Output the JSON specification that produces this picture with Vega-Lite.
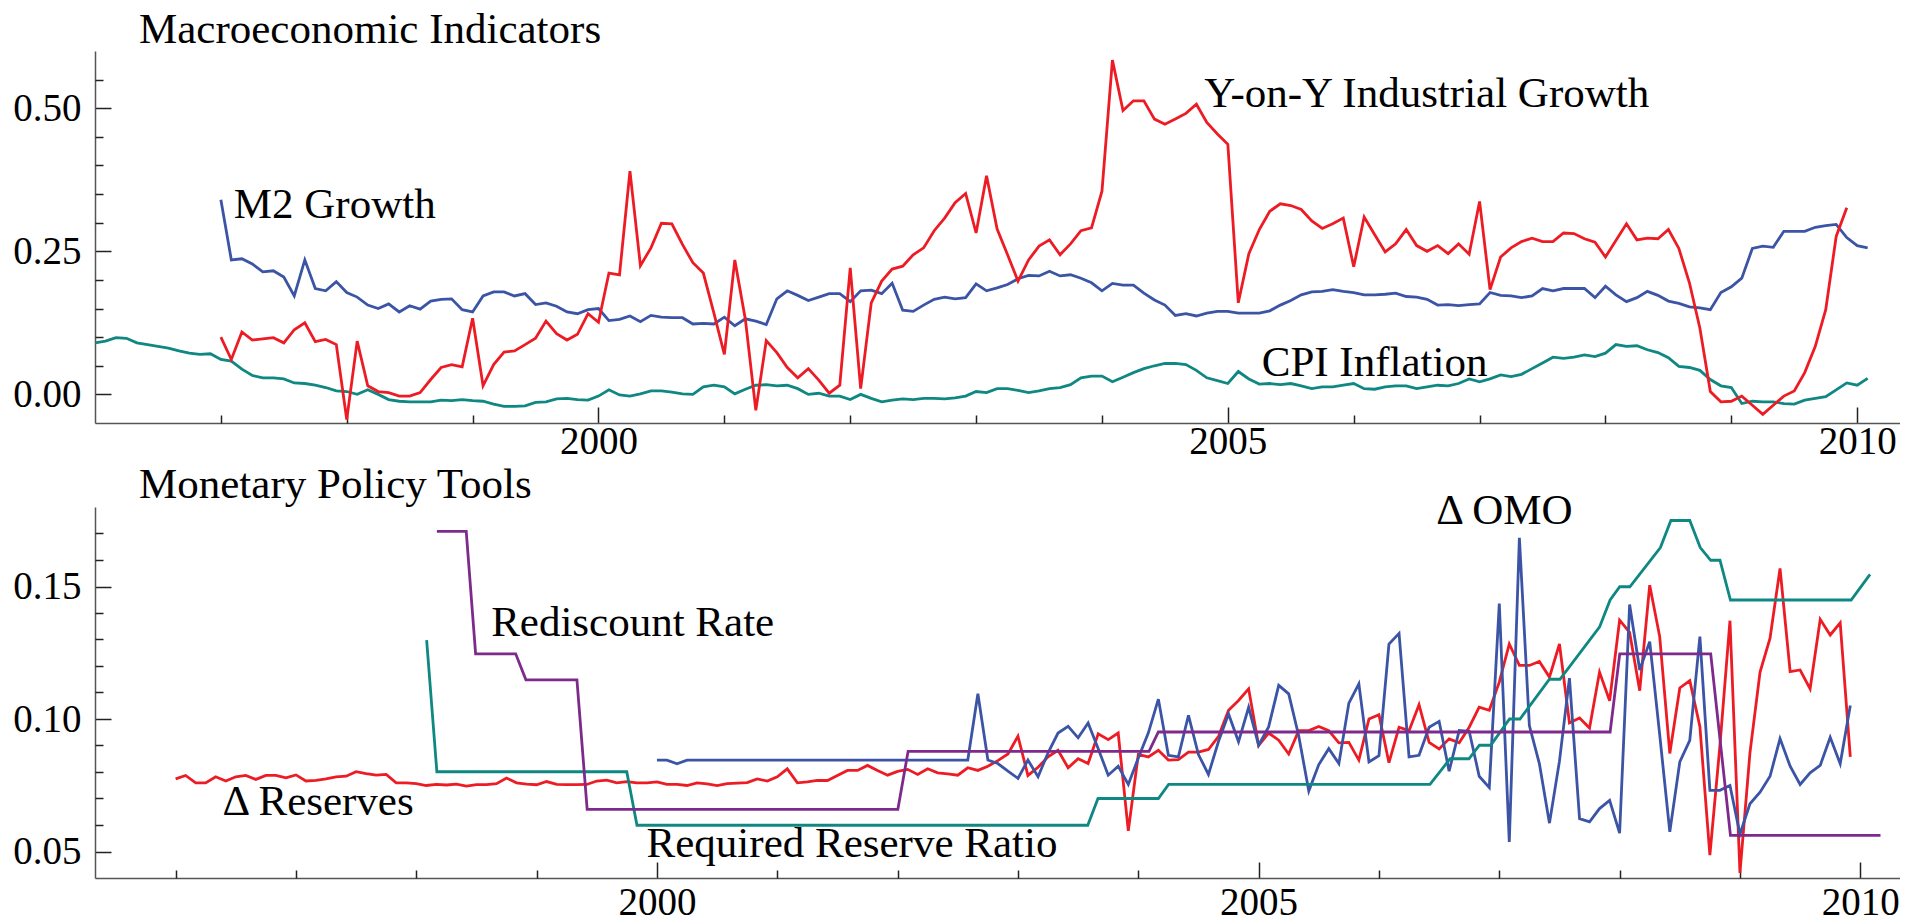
{
"$schema": "https://vega.github.io/schema/vega-lite/v6.json",
"background": "white",
"padding": {"left": 12, "top": 8, "right": 0, "bottom": 0},
"spacing": 2,
"config": {"view": {"stroke": null}, "font": "Liberation Serif"},
"datasets": {
"cpi": [
{"t":1996.000,"v":0.090},{"t":1996.083,"v":0.093},{"t":1996.167,"v":0.099},{"t":1996.250,"v":0.098},{"t":1996.333,"v":0.090},{"t":1996.417,"v":0.087},{"t":1996.500,"v":0.084},{"t":1996.583,"v":0.081},{"t":1996.667,"v":0.076},{"t":1996.750,"v":0.072},{"t":1996.833,"v":0.070},{"t":1996.917,"v":0.071},
{"t":1997.000,"v":0.061},{"t":1997.083,"v":0.058},{"t":1997.167,"v":0.044},{"t":1997.250,"v":0.033},{"t":1997.333,"v":0.029},{"t":1997.417,"v":0.029},{"t":1997.500,"v":0.027},{"t":1997.583,"v":0.020},{"t":1997.667,"v":0.019},{"t":1997.750,"v":0.016},{"t":1997.833,"v":0.012},{"t":1997.917,"v":0.006},
{"t":1998.000,"v":0.005},{"t":1998.083,"v":0.000},{"t":1998.167,"v":0.008},{"t":1998.250,"v":0.000},{"t":1998.333,"v":-0.009},{"t":1998.417,"v":-0.012},{"t":1998.500,"v":-0.013},{"t":1998.583,"v":-0.013},{"t":1998.667,"v":-0.013},{"t":1998.750,"v":-0.010},{"t":1998.833,"v":-0.011},{"t":1998.917,"v":-0.009},
{"t":1999.000,"v":-0.011},{"t":1999.083,"v":-0.012},{"t":1999.167,"v":-0.017},{"t":1999.250,"v":-0.021},{"t":1999.333,"v":-0.021},{"t":1999.417,"v":-0.020},{"t":1999.500,"v":-0.014},{"t":1999.583,"v":-0.013},{"t":1999.667,"v":-0.008},{"t":1999.750,"v":-0.007},{"t":1999.833,"v":-0.009},{"t":1999.917,"v":-0.010},
{"t":2000.000,"v":-0.003},{"t":2000.083,"v":0.008},{"t":2000.167,"v":-0.001},{"t":2000.250,"v":-0.003},{"t":2000.333,"v":0.001},{"t":2000.417,"v":0.006},{"t":2000.500,"v":0.006},{"t":2000.583,"v":0.004},{"t":2000.667,"v":0.001},{"t":2000.750,"v":0.000},{"t":2000.833,"v":0.013},{"t":2000.917,"v":0.016},
{"t":2001.000,"v":0.013},{"t":2001.083,"v":0.001},{"t":2001.167,"v":0.009},{"t":2001.250,"v":0.016},{"t":2001.333,"v":0.017},{"t":2001.417,"v":0.015},{"t":2001.500,"v":0.016},{"t":2001.583,"v":0.010},{"t":2001.667,"v":0.000},{"t":2001.750,"v":0.002},{"t":2001.833,"v":-0.003},{"t":2001.917,"v":-0.003},
{"t":2002.000,"v":-0.009},{"t":2002.083,"v":0.000},{"t":2002.167,"v":-0.007},{"t":2002.250,"v":-0.013},{"t":2002.333,"v":-0.010},{"t":2002.417,"v":-0.008},{"t":2002.500,"v":-0.009},{"t":2002.583,"v":-0.007},{"t":2002.667,"v":-0.007},{"t":2002.750,"v":-0.008},{"t":2002.833,"v":-0.006},{"t":2002.917,"v":-0.003},
{"t":2003.000,"v":0.005},{"t":2003.083,"v":0.003},{"t":2003.167,"v":0.010},{"t":2003.250,"v":0.010},{"t":2003.333,"v":0.007},{"t":2003.417,"v":0.003},{"t":2003.500,"v":0.006},{"t":2003.583,"v":0.010},{"t":2003.667,"v":0.012},{"t":2003.750,"v":0.017},{"t":2003.833,"v":0.029},{"t":2003.917,"v":0.032},
{"t":2004.000,"v":0.032},{"t":2004.083,"v":0.022},{"t":2004.167,"v":0.030},{"t":2004.250,"v":0.038},{"t":2004.333,"v":0.045},{"t":2004.417,"v":0.050},{"t":2004.500,"v":0.054},{"t":2004.583,"v":0.054},{"t":2004.667,"v":0.052},{"t":2004.750,"v":0.042},{"t":2004.833,"v":0.029},{"t":2004.917,"v":0.024},
{"t":2005.000,"v":0.019},{"t":2005.083,"v":0.040},{"t":2005.167,"v":0.027},{"t":2005.250,"v":0.018},{"t":2005.333,"v":0.019},{"t":2005.417,"v":0.017},{"t":2005.500,"v":0.019},{"t":2005.583,"v":0.015},{"t":2005.667,"v":0.010},{"t":2005.750,"v":0.013},{"t":2005.833,"v":0.013},{"t":2005.917,"v":0.016},
{"t":2006.000,"v":0.019},{"t":2006.083,"v":0.010},{"t":2006.167,"v":0.009},{"t":2006.250,"v":0.013},{"t":2006.333,"v":0.015},{"t":2006.417,"v":0.015},{"t":2006.500,"v":0.010},{"t":2006.583,"v":0.013},{"t":2006.667,"v":0.016},{"t":2006.750,"v":0.015},{"t":2006.833,"v":0.019},{"t":2006.917,"v":0.027},
{"t":2007.000,"v":0.022},{"t":2007.083,"v":0.027},{"t":2007.167,"v":0.034},{"t":2007.250,"v":0.031},{"t":2007.333,"v":0.035},{"t":2007.417,"v":0.045},{"t":2007.500,"v":0.055},{"t":2007.583,"v":0.065},{"t":2007.667,"v":0.063},{"t":2007.750,"v":0.065},{"t":2007.833,"v":0.069},{"t":2007.917,"v":0.066},
{"t":2008.000,"v":0.072},{"t":2008.083,"v":0.087},{"t":2008.167,"v":0.084},{"t":2008.250,"v":0.085},{"t":2008.333,"v":0.078},{"t":2008.417,"v":0.073},{"t":2008.500,"v":0.064},{"t":2008.583,"v":0.049},{"t":2008.667,"v":0.047},{"t":2008.750,"v":0.042},{"t":2008.833,"v":0.026},{"t":2008.917,"v":0.015},
{"t":2009.000,"v":0.012},{"t":2009.083,"v":-0.016},{"t":2009.167,"v":-0.012},{"t":2009.250,"v":-0.013},{"t":2009.333,"v":-0.013},{"t":2009.417,"v":-0.016},{"t":2009.500,"v":-0.017},{"t":2009.583,"v":-0.010},{"t":2009.667,"v":-0.007},{"t":2009.750,"v":-0.004},{"t":2009.833,"v":0.008},{"t":2009.917,"v":0.020},
{"t":2010.000,"v":0.016},{"t":2010.083,"v":0.028}
],
"m2": [
{"t":1997.000,"v":0.340},{"t":1997.083,"v":0.235},{"t":1997.167,"v":0.237},{"t":1997.250,"v":0.228},{"t":1997.333,"v":0.214},{"t":1997.417,"v":0.216},{"t":1997.500,"v":0.205},{"t":1997.583,"v":0.172},{"t":1997.667,"v":0.235},{"t":1997.750,"v":0.185},{"t":1997.833,"v":0.181},{"t":1997.917,"v":0.197},
{"t":1998.000,"v":0.178},{"t":1998.083,"v":0.170},{"t":1998.167,"v":0.156},{"t":1998.250,"v":0.150},{"t":1998.333,"v":0.158},{"t":1998.417,"v":0.144},{"t":1998.500,"v":0.155},{"t":1998.583,"v":0.149},{"t":1998.667,"v":0.163},{"t":1998.750,"v":0.166},{"t":1998.833,"v":0.167},{"t":1998.917,"v":0.148},
{"t":1999.000,"v":0.144},{"t":1999.083,"v":0.172},{"t":1999.167,"v":0.179},{"t":1999.250,"v":0.179},{"t":1999.333,"v":0.172},{"t":1999.417,"v":0.176},{"t":1999.500,"v":0.157},{"t":1999.583,"v":0.160},{"t":1999.667,"v":0.154},{"t":1999.750,"v":0.144},{"t":1999.833,"v":0.141},{"t":1999.917,"v":0.148},
{"t":2000.000,"v":0.150},{"t":2000.083,"v":0.129},{"t":2000.167,"v":0.131},{"t":2000.250,"v":0.137},{"t":2000.333,"v":0.127},{"t":2000.417,"v":0.138},{"t":2000.500,"v":0.135},{"t":2000.583,"v":0.134},{"t":2000.667,"v":0.134},{"t":2000.750,"v":0.123},{"t":2000.833,"v":0.124},{"t":2000.917,"v":0.123},
{"t":2001.000,"v":0.135},{"t":2001.083,"v":0.120},{"t":2001.167,"v":0.132},{"t":2001.250,"v":0.128},{"t":2001.333,"v":0.122},{"t":2001.417,"v":0.167},{"t":2001.500,"v":0.181},{"t":2001.583,"v":0.173},{"t":2001.667,"v":0.164},{"t":2001.750,"v":0.170},{"t":2001.833,"v":0.176},{"t":2001.917,"v":0.176},
{"t":2002.000,"v":0.162},{"t":2002.083,"v":0.181},{"t":2002.167,"v":0.182},{"t":2002.250,"v":0.176},{"t":2002.333,"v":0.194},{"t":2002.417,"v":0.147},{"t":2002.500,"v":0.145},{"t":2002.583,"v":0.156},{"t":2002.667,"v":0.166},{"t":2002.750,"v":0.170},{"t":2002.833,"v":0.167},{"t":2002.917,"v":0.169},
{"t":2003.000,"v":0.193},{"t":2003.083,"v":0.181},{"t":2003.167,"v":0.186},{"t":2003.250,"v":0.192},{"t":2003.333,"v":0.202},{"t":2003.417,"v":0.208},{"t":2003.500,"v":0.207},{"t":2003.583,"v":0.215},{"t":2003.667,"v":0.207},{"t":2003.750,"v":0.209},{"t":2003.833,"v":0.203},{"t":2003.917,"v":0.195},
{"t":2004.000,"v":0.181},{"t":2004.083,"v":0.194},{"t":2004.167,"v":0.191},{"t":2004.250,"v":0.191},{"t":2004.333,"v":0.177},{"t":2004.417,"v":0.165},{"t":2004.500,"v":0.156},{"t":2004.583,"v":0.138},{"t":2004.667,"v":0.141},{"t":2004.750,"v":0.137},{"t":2004.833,"v":0.142},{"t":2004.917,"v":0.145},
{"t":2005.000,"v":0.145},{"t":2005.083,"v":0.142},{"t":2005.167,"v":0.142},{"t":2005.250,"v":0.142},{"t":2005.333,"v":0.146},{"t":2005.417,"v":0.156},{"t":2005.500,"v":0.164},{"t":2005.583,"v":0.174},{"t":2005.667,"v":0.179},{"t":2005.750,"v":0.180},{"t":2005.833,"v":0.183},{"t":2005.917,"v":0.180},
{"t":2006.000,"v":0.178},{"t":2006.083,"v":0.174},{"t":2006.167,"v":0.174},{"t":2006.250,"v":0.175},{"t":2006.333,"v":0.177},{"t":2006.417,"v":0.171},{"t":2006.500,"v":0.170},{"t":2006.583,"v":0.166},{"t":2006.667,"v":0.156},{"t":2006.750,"v":0.157},{"t":2006.833,"v":0.155},{"t":2006.917,"v":0.157},
{"t":2007.000,"v":0.158},{"t":2007.083,"v":0.178},{"t":2007.167,"v":0.173},{"t":2007.250,"v":0.172},{"t":2007.333,"v":0.169},{"t":2007.417,"v":0.172},{"t":2007.500,"v":0.185},{"t":2007.583,"v":0.181},{"t":2007.667,"v":0.185},{"t":2007.750,"v":0.185},{"t":2007.833,"v":0.185},{"t":2007.917,"v":0.169},
{"t":2008.000,"v":0.189},{"t":2008.083,"v":0.174},{"t":2008.167,"v":0.162},{"t":2008.250,"v":0.169},{"t":2008.333,"v":0.180},{"t":2008.417,"v":0.173},{"t":2008.500,"v":0.163},{"t":2008.583,"v":0.159},{"t":2008.667,"v":0.153},{"t":2008.750,"v":0.151},{"t":2008.833,"v":0.148},{"t":2008.917,"v":0.178},
{"t":2009.000,"v":0.188},{"t":2009.083,"v":0.203},{"t":2009.167,"v":0.255},{"t":2009.250,"v":0.259},{"t":2009.333,"v":0.257},{"t":2009.417,"v":0.285},{"t":2009.500,"v":0.285},{"t":2009.583,"v":0.285},{"t":2009.667,"v":0.292},{"t":2009.750,"v":0.295},{"t":2009.833,"v":0.297},{"t":2009.917,"v":0.274},
{"t":2010.000,"v":0.260},{"t":2010.083,"v":0.256}
],
"ip": [
{"t":1997.000,"v":0.100},{"t":1997.083,"v":0.061},{"t":1997.167,"v":0.109},{"t":1997.250,"v":0.095},{"t":1997.333,"v":0.097},{"t":1997.417,"v":0.099},{"t":1997.500,"v":0.090},{"t":1997.583,"v":0.113},{"t":1997.667,"v":0.125},{"t":1997.750,"v":0.092},{"t":1997.833,"v":0.096},{"t":1997.917,"v":0.087},
{"t":1998.000,"v":-0.044},{"t":1998.083,"v":0.093},{"t":1998.167,"v":0.015},{"t":1998.250,"v":0.005},{"t":1998.333,"v":0.003},{"t":1998.417,"v":-0.003},{"t":1998.500,"v":-0.003},{"t":1998.583,"v":0.003},{"t":1998.667,"v":0.026},{"t":1998.750,"v":0.047},{"t":1998.833,"v":0.052},{"t":1998.917,"v":0.048},
{"t":1999.000,"v":0.133},{"t":1999.083,"v":0.015},{"t":1999.167,"v":0.052},{"t":1999.250,"v":0.074},{"t":1999.333,"v":0.076},{"t":1999.417,"v":0.087},{"t":1999.500,"v":0.098},{"t":1999.583,"v":0.128},{"t":1999.667,"v":0.106},{"t":1999.750,"v":0.095},{"t":1999.833,"v":0.105},{"t":1999.917,"v":0.141},
{"t":2000.000,"v":0.126},{"t":2000.083,"v":0.212},{"t":2000.167,"v":0.209},{"t":2000.250,"v":0.390},{"t":2000.333,"v":0.225},{"t":2000.417,"v":0.256},{"t":2000.500,"v":0.299},{"t":2000.583,"v":0.298},{"t":2000.667,"v":0.262},{"t":2000.750,"v":0.230},{"t":2000.833,"v":0.212},{"t":2000.917,"v":0.142},
{"t":2001.000,"v":0.070},{"t":2001.083,"v":0.235},{"t":2001.167,"v":0.131},{"t":2001.250,"v":-0.028},{"t":2001.333,"v":0.094},{"t":2001.417,"v":0.073},{"t":2001.500,"v":0.047},{"t":2001.583,"v":0.029},{"t":2001.667,"v":0.045},{"t":2001.750,"v":0.025},{"t":2001.833,"v":0.002},{"t":2001.917,"v":0.016},
{"t":2002.000,"v":0.221},{"t":2002.083,"v":0.010},{"t":2002.167,"v":0.160},{"t":2002.250,"v":0.198},{"t":2002.333,"v":0.219},{"t":2002.417,"v":0.224},{"t":2002.500,"v":0.244},{"t":2002.583,"v":0.256},{"t":2002.667,"v":0.286},{"t":2002.750,"v":0.308},{"t":2002.833,"v":0.335},{"t":2002.917,"v":0.351},
{"t":2003.000,"v":0.282},{"t":2003.083,"v":0.382},{"t":2003.167,"v":0.289},{"t":2003.250,"v":0.244},{"t":2003.333,"v":0.198},{"t":2003.417,"v":0.235},{"t":2003.500,"v":0.259},{"t":2003.583,"v":0.270},{"t":2003.667,"v":0.244},{"t":2003.750,"v":0.263},{"t":2003.833,"v":0.286},{"t":2003.917,"v":0.291},
{"t":2004.000,"v":0.355},{"t":2004.083,"v":0.584},{"t":2004.167,"v":0.496},{"t":2004.250,"v":0.513},{"t":2004.333,"v":0.513},{"t":2004.417,"v":0.481},{"t":2004.500,"v":0.472},{"t":2004.583,"v":0.481},{"t":2004.667,"v":0.491},{"t":2004.750,"v":0.507},{"t":2004.833,"v":0.475},{"t":2004.917,"v":0.455},
{"t":2005.000,"v":0.437},{"t":2005.083,"v":0.160},{"t":2005.167,"v":0.246},{"t":2005.250,"v":0.288},{"t":2005.333,"v":0.320},{"t":2005.417,"v":0.333},{"t":2005.500,"v":0.330},{"t":2005.583,"v":0.323},{"t":2005.667,"v":0.303},{"t":2005.750,"v":0.290},{"t":2005.833,"v":0.298},{"t":2005.917,"v":0.308},
{"t":2006.000,"v":0.223},{"t":2006.083,"v":0.310},{"t":2006.167,"v":0.279},{"t":2006.250,"v":0.249},{"t":2006.333,"v":0.263},{"t":2006.417,"v":0.288},{"t":2006.500,"v":0.260},{"t":2006.583,"v":0.250},{"t":2006.667,"v":0.260},{"t":2006.750,"v":0.246},{"t":2006.833,"v":0.263},{"t":2006.917,"v":0.245},
{"t":2007.000,"v":0.337},{"t":2007.083,"v":0.183},{"t":2007.167,"v":0.240},{"t":2007.250,"v":0.256},{"t":2007.333,"v":0.267},{"t":2007.417,"v":0.273},{"t":2007.500,"v":0.267},{"t":2007.583,"v":0.267},{"t":2007.667,"v":0.282},{"t":2007.750,"v":0.281},{"t":2007.833,"v":0.272},{"t":2007.917,"v":0.266},
{"t":2008.000,"v":0.240},{"t":2008.083,"v":0.269},{"t":2008.167,"v":0.298},{"t":2008.250,"v":0.270},{"t":2008.333,"v":0.273},{"t":2008.417,"v":0.272},{"t":2008.500,"v":0.288},{"t":2008.583,"v":0.255},{"t":2008.667,"v":0.195},{"t":2008.750,"v":0.116},{"t":2008.833,"v":0.005},{"t":2008.917,"v":-0.013},
{"t":2009.000,"v":-0.012},{"t":2009.083,"v":-0.003},{"t":2009.167,"v":-0.019},{"t":2009.250,"v":-0.035},{"t":2009.333,"v":-0.019},{"t":2009.417,"v":-0.003},{"t":2009.500,"v":0.006},{"t":2009.583,"v":0.038},{"t":2009.667,"v":0.084},{"t":2009.750,"v":0.148},{"t":2009.833,"v":0.276},{"t":2009.917,"v":0.326}
],
"res": [
{"t":1996.000,"v":0.0774},{"t":1996.083,"v":0.0787},{"t":1996.167,"v":0.0759},{"t":1996.250,"v":0.0759},{"t":1996.333,"v":0.0782},{"t":1996.417,"v":0.0766},{"t":1996.500,"v":0.0782},{"t":1996.583,"v":0.0787},{"t":1996.667,"v":0.0772},{"t":1996.750,"v":0.0787},{"t":1996.833,"v":0.0787},{"t":1996.917,"v":0.0778},
{"t":1997.000,"v":0.0789},{"t":1997.083,"v":0.0766},{"t":1997.167,"v":0.0768},{"t":1997.250,"v":0.0774},{"t":1997.333,"v":0.0782},{"t":1997.417,"v":0.0784},{"t":1997.500,"v":0.0801},{"t":1997.583,"v":0.0794},{"t":1997.667,"v":0.0788},{"t":1997.750,"v":0.0791},{"t":1997.833,"v":0.0759},{"t":1997.917,"v":0.0759},
{"t":1998.000,"v":0.0756},{"t":1998.083,"v":0.0749},{"t":1998.167,"v":0.0753},{"t":1998.250,"v":0.0751},{"t":1998.333,"v":0.0754},{"t":1998.417,"v":0.0747},{"t":1998.500,"v":0.0752},{"t":1998.583,"v":0.0752},{"t":1998.667,"v":0.0756},{"t":1998.750,"v":0.0777},{"t":1998.833,"v":0.0759},{"t":1998.917,"v":0.0754},
{"t":1999.000,"v":0.0752},{"t":1999.083,"v":0.0764},{"t":1999.167,"v":0.0753},{"t":1999.250,"v":0.0752},{"t":1999.333,"v":0.0752},{"t":1999.417,"v":0.0753},{"t":1999.500,"v":0.0766},{"t":1999.583,"v":0.0769},{"t":1999.667,"v":0.0759},{"t":1999.750,"v":0.0764},{"t":1999.833,"v":0.0759},{"t":1999.917,"v":0.0759},
{"t":2000.000,"v":0.0763},{"t":2000.083,"v":0.0753},{"t":2000.167,"v":0.0753},{"t":2000.250,"v":0.0749},{"t":2000.333,"v":0.0759},{"t":2000.417,"v":0.0755},{"t":2000.500,"v":0.0749},{"t":2000.583,"v":0.0756},{"t":2000.667,"v":0.0758},{"t":2000.750,"v":0.0760},{"t":2000.833,"v":0.0774},{"t":2000.917,"v":0.0766},
{"t":2001.000,"v":0.0782},{"t":2001.083,"v":0.0812},{"t":2001.167,"v":0.0759},{"t":2001.250,"v":0.0763},{"t":2001.333,"v":0.0768},{"t":2001.417,"v":0.0768},{"t":2001.500,"v":0.0787},{"t":2001.583,"v":0.0806},{"t":2001.667,"v":0.0806},{"t":2001.750,"v":0.0825},{"t":2001.833,"v":0.0806},{"t":2001.917,"v":0.0788},
{"t":2002.000,"v":0.0802},{"t":2002.083,"v":0.0810},{"t":2002.167,"v":0.0791},{"t":2002.250,"v":0.0812},{"t":2002.333,"v":0.0797},{"t":2002.417,"v":0.0793},{"t":2002.500,"v":0.0788},{"t":2002.583,"v":0.0816},{"t":2002.667,"v":0.0806},{"t":2002.750,"v":0.0822},{"t":2002.833,"v":0.0843},{"t":2002.917,"v":0.0868},
{"t":2003.000,"v":0.0935},{"t":2003.083,"v":0.0787},{"t":2003.167,"v":0.0818},{"t":2003.250,"v":0.0857},{"t":2003.333,"v":0.0882},{"t":2003.417,"v":0.0816},{"t":2003.500,"v":0.0850},{"t":2003.583,"v":0.0832},{"t":2003.667,"v":0.0944},{"t":2003.750,"v":0.0922},{"t":2003.833,"v":0.0947},{"t":2003.917,"v":0.0578},
{"t":2004.000,"v":0.0866},{"t":2004.083,"v":0.0857},{"t":2004.167,"v":0.0882},{"t":2004.250,"v":0.0845},{"t":2004.333,"v":0.0847},{"t":2004.417,"v":0.0875},{"t":2004.500,"v":0.0875},{"t":2004.583,"v":0.0885},{"t":2004.667,"v":0.0935},{"t":2004.750,"v":0.1033},{"t":2004.833,"v":0.1070},{"t":2004.917,"v":0.1114},
{"t":2005.000,"v":0.0900},{"t":2005.083,"v":0.0947},{"t":2005.167,"v":0.0920},{"t":2005.250,"v":0.0868},{"t":2005.333,"v":0.0956},{"t":2005.417,"v":0.0956},{"t":2005.500,"v":0.0972},{"t":2005.583,"v":0.0956},{"t":2005.667,"v":0.0910},{"t":2005.750,"v":0.0912},{"t":2005.833,"v":0.0845},{"t":2005.917,"v":0.1000},
{"t":2006.000,"v":0.1016},{"t":2006.083,"v":0.0835},{"t":2006.167,"v":0.0969},{"t":2006.250,"v":0.0956},{"t":2006.333,"v":0.1054},{"t":2006.417,"v":0.0912},{"t":2006.500,"v":0.0887},{"t":2006.583,"v":0.0925},{"t":2006.667,"v":0.0910},{"t":2006.750,"v":0.0969},{"t":2006.833,"v":0.1045},{"t":2006.917,"v":0.1033},
{"t":2007.000,"v":0.1139},{"t":2007.083,"v":0.1283},{"t":2007.167,"v":0.1202},{"t":2007.250,"v":0.1202},{"t":2007.333,"v":0.1217},{"t":2007.417,"v":0.1158},{"t":2007.500,"v":0.1283},{"t":2007.583,"v":0.0985},{"t":2007.667,"v":0.1004},{"t":2007.750,"v":0.0966},{"t":2007.833,"v":0.1177},{"t":2007.917,"v":0.1069},
{"t":2008.000,"v":0.1373},{"t":2008.083,"v":0.1327},{"t":2008.167,"v":0.1107},{"t":2008.250,"v":0.1505},{"t":2008.333,"v":0.1311},{"t":2008.417,"v":0.0870},{"t":2008.500,"v":0.1117},{"t":2008.583,"v":0.1145},{"t":2008.667,"v":0.0972},{"t":2008.750,"v":0.0486},{"t":2008.833,"v":0.0897},{"t":2008.917,"v":0.1371},
{"t":2009.000,"v":0.0419},{"t":2009.083,"v":0.0872},{"t":2009.167,"v":0.1177},{"t":2009.250,"v":0.1305},{"t":2009.333,"v":0.1568},{"t":2009.417,"v":0.1179},{"t":2009.500,"v":0.1185},{"t":2009.583,"v":0.1114},{"t":2009.667,"v":0.1376},{"t":2009.750,"v":0.1317},{"t":2009.833,"v":0.1363},{"t":2009.917,"v":0.0857}
],
"omo": [
{"t":2000.000,"v":0.0845},{"t":2000.083,"v":0.0845},{"t":2000.167,"v":0.0831},{"t":2000.250,"v":0.0845},{"t":2002.583,"v":0.0845},{"t":2002.667,"v":0.1095},{"t":2002.750,"v":0.0845},{"t":2002.833,"v":0.0832},{"t":2002.917,"v":0.0803},
{"t":2003.000,"v":0.0776},{"t":2003.083,"v":0.0845},{"t":2003.167,"v":0.0782},{"t":2003.250,"v":0.0872},{"t":2003.333,"v":0.0947},{"t":2003.417,"v":0.0972},{"t":2003.500,"v":0.0929},{"t":2003.583,"v":0.0985},{"t":2003.667,"v":0.0888},{"t":2003.750,"v":0.0788},{"t":2003.833,"v":0.0822},{"t":2003.917,"v":0.0753},
{"t":2004.000,"v":0.0853},{"t":2004.083,"v":0.0947},{"t":2004.167,"v":0.1075},{"t":2004.250,"v":0.0863},{"t":2004.333,"v":0.0857},{"t":2004.417,"v":0.1014},{"t":2004.500,"v":0.0866},{"t":2004.583,"v":0.0791},{"t":2004.667,"v":0.0916},{"t":2004.750,"v":0.1019},{"t":2004.833,"v":0.0914},{"t":2004.917,"v":0.1044},
{"t":2005.000,"v":0.0901},{"t":2005.083,"v":0.0970},{"t":2005.167,"v":0.1127},{"t":2005.250,"v":0.1095},{"t":2005.333,"v":0.0937},{"t":2005.417,"v":0.0728},{"t":2005.500,"v":0.0828},{"t":2005.583,"v":0.0888},{"t":2005.667,"v":0.0832},{"t":2005.750,"v":0.1060},{"t":2005.833,"v":0.1133},{"t":2005.917,"v":0.0838},
{"t":2006.000,"v":0.0862},{"t":2006.083,"v":0.1283},{"t":2006.167,"v":0.1323},{"t":2006.250,"v":0.0857},{"t":2006.333,"v":0.0863},{"t":2006.417,"v":0.0969},{"t":2006.500,"v":0.0991},{"t":2006.583,"v":0.0803},{"t":2006.667,"v":0.0957},{"t":2006.750,"v":0.0954},{"t":2006.833,"v":0.0784},{"t":2006.917,"v":0.0741},
{"t":2007.000,"v":0.1436},{"t":2007.083,"v":0.0536},{"t":2007.167,"v":0.1684},{"t":2007.250,"v":0.0975},{"t":2007.333,"v":0.0832},{"t":2007.417,"v":0.0607},{"t":2007.500,"v":0.0841},{"t":2007.583,"v":0.1154},{"t":2007.667,"v":0.0624},{"t":2007.750,"v":0.0612},{"t":2007.833,"v":0.0662},{"t":2007.917,"v":0.0693},
{"t":2008.000,"v":0.0569},{"t":2008.083,"v":0.1432},{"t":2008.167,"v":0.1185},{"t":2008.250,"v":0.1292},{"t":2008.333,"v":0.0941},{"t":2008.417,"v":0.0574},{"t":2008.500,"v":0.0838},{"t":2008.583,"v":0.0919},{"t":2008.667,"v":0.1311},{"t":2008.750,"v":0.0731},{"t":2008.833,"v":0.0731},{"t":2008.917,"v":0.0749},
{"t":2009.000,"v":0.0565},{"t":2009.083,"v":0.0680},{"t":2009.167,"v":0.0724},{"t":2009.250,"v":0.0784},{"t":2009.333,"v":0.0926},{"t":2009.417,"v":0.0822},{"t":2009.500,"v":0.0753},{"t":2009.583,"v":0.0797},{"t":2009.667,"v":0.0825},{"t":2009.750,"v":0.0931},{"t":2009.833,"v":0.0831},{"t":2009.917,"v":0.1051}
],
"redisc": [
{"t":1998.171,"v":0.1708},{"t":1998.415,"v":0.1708},{"t":1998.493,"v":0.1246},{"t":1998.826,"v":0.1246},{"t":1998.911,"v":0.1148},{"t":1999.335,"v":0.1148},{"t":1999.420,"v":0.0659},{"t":2002.002,"v":0.0659},{"t":2002.087,"v":0.0878},{"t":2004.089,"v":0.0878},{"t":2004.167,"v":0.0951},{"t":2007.921,"v":0.0951},{"t":2008.001,"v":0.1246},{"t":2008.757,"v":0.1246},{"t":2008.921,"v":0.0561},{"t":2010.168,"v":0.0561}
],
"rrr": [
{"t":1998.086,"v":0.1298},{"t":1998.171,"v":0.0801},{"t":1999.749,"v":0.0801},{"t":1999.834,"v":0.0599},{"t":2003.580,"v":0.0599},{"t":2003.665,"v":0.0700},{"t":2004.167,"v":0.0700},{"t":2004.252,"v":0.0753},{"t":2006.424,"v":0.0753},{"t":2006.591,"v":0.0850},{"t":2006.748,"v":0.0850},{"t":2006.835,"v":0.0901},{"t":2006.929,"v":0.0901},{"t":2007.085,"v":0.1000},{"t":2007.172,"v":0.1000},{"t":2007.417,"v":0.1150},{"t":2007.504,"v":0.1150},{"t":2007.834,"v":0.1348},{"t":2007.921,"v":0.1449},{"t":2008.001,"v":0.1499},{"t":2008.085,"v":0.1499},{"t":2008.339,"v":0.1647},{"t":2008.426,"v":0.1749},{"t":2008.583,"v":0.1749},{"t":2008.670,"v":0.1647},{"t":2008.757,"v":0.1599},{"t":2008.834,"v":0.1599},{"t":2008.921,"v":0.1449},{"t":2009.924,"v":0.1449},{"t":2010.081,"v":0.1546}
],
"labTop": [
{"t":1996.350,"v":0.6145,"txt":"Macroeconomic Indicators"},
{"t":1997.103,"v":0.309,"txt":"M2 Growth"},
{"t":2004.812,"v":0.503,"txt":"Y-on-Y Industrial Growth"},
{"t":2005.269,"v":0.032,"txt":"CPI Inflation"}
],
"labBot": [
{"t":1995.696,"v":0.1834,"txt":"Monetary Policy Tools"},
{"t":1998.622,"v":0.1314,"txt":"Rediscount Rate"},
{"t":1996.389,"v":0.0638,"txt":"Δ Reserves"},
{"t":1999.914,"v":0.0481,"txt":"Required Reserve Ratio"},
{"t":2006.476,"v":0.1734,"txt":"Δ OMO"}
]
},
"vconcat": [
{
"width": 1805, "height": 372,
"resolve": {"axis": {"x": "independent", "y": "independent"}},
"layer": [
{"mark": {"type": "rule", "color": "#9a9a9a", "strokeWidth": 1.5},
 "encoding": {"y": {"datum": 0, "type": "quantitative", "scale": {"domain": [-0.05, 0.6], "nice": false, "zero": false}, "axis": null}}},
{"data": {"name": "cpi"}, "mark": {"type": "line", "color": "#0f8782", "strokeWidth": 2.8},
 "encoding": {
  "x": {"field": "t", "type": "quantitative", "scale": {"domain": [1996, 2010.34], "nice": false, "zero": false},
        "axis": {"orient": "bottom", "values": [2000, 2005, 2010], "format": "d", "title": null, "grid": false, "tickSize": -16, "tickWidth": 1.5, "tickColor": "#222", "domainColor": "#555", "domainWidth": 1.5, "labelFont": "Liberation Serif", "labelFontSize": 39, "labelColor": "black", "labelPadding": 15, "labelFlush": false, "labelOverlap": false}},
  "y": {"field": "v", "type": "quantitative", "scale": {"domain": [-0.05, 0.6], "nice": false, "zero": false},
        "axis": {"orient": "left", "values": [0, 0.25, 0.5], "format": ".2f", "title": null, "grid": false, "tickSize": -16, "tickWidth": 1.5, "tickColor": "#222", "domainColor": "#555", "domainWidth": 1.5, "labelFont": "Liberation Serif", "labelFontSize": 39, "labelColor": "black", "labelPadding": 30, "labelFlush": false, "labelOverlap": false}}
 }},
{"data": {"name": "m2"}, "mark": {"type": "line", "color": "#3b54a5", "strokeWidth": 2.8},
 "encoding": {
  "x": {"field": "t", "type": "quantitative", "scale": {"domain": [1996, 2010.34], "nice": false, "zero": false},
        "axis": {"orient": "bottom", "values": [1997, 1998, 1999, 2001, 2002, 2003, 2004, 2006, 2007, 2008, 2009], "title": null, "grid": false, "labels": false, "domain": false, "tickSize": -8, "tickWidth": 1.5, "tickColor": "#222"}},
  "y": {"field": "v", "type": "quantitative", "scale": {"domain": [-0.05, 0.6], "nice": false, "zero": false},
        "axis": {"orient": "left", "values": [0.05, 0.1, 0.15, 0.2, 0.3, 0.35, 0.4, 0.45, 0.55], "title": null, "grid": false, "labels": false, "domain": false, "tickSize": -8, "tickWidth": 1.5, "tickColor": "#222"}}
 }},
{"data": {"name": "ip"}, "mark": {"type": "line", "color": "#ed1c24", "strokeWidth": 2.8},
 "encoding": {
  "x": {"field": "t", "type": "quantitative", "scale": {"domain": [1996, 2010.34], "nice": false, "zero": false}, "axis": null},
  "y": {"field": "v", "type": "quantitative", "scale": {"domain": [-0.05, 0.6], "nice": false, "zero": false}, "axis": null}
 }},
{"data": {"name": "labTop"}, "mark": {"type": "text", "font": "Liberation Serif", "fontSize": 43, "align": "left", "baseline": "alphabetic", "color": "black"},
 "encoding": {
  "x": {"field": "t", "type": "quantitative", "scale": {"domain": [1996, 2010.34], "nice": false, "zero": false}, "axis": null},
  "y": {"field": "v", "type": "quantitative", "scale": {"domain": [-0.05, 0.6], "nice": false, "zero": false}, "axis": null},
  "text": {"field": "txt"}
 }}
]
},
{
"width": 1805, "height": 371,
"resolve": {"axis": {"x": "independent", "y": "independent"}},
"layer": [
{"data": {"name": "res"}, "mark": {"type": "line", "color": "#ed1c24", "strokeWidth": 2.8},
 "encoding": {
  "x": {"field": "t", "type": "quantitative", "scale": {"domain": [1995.33, 2010.33], "nice": false, "zero": false},
        "axis": {"orient": "bottom", "values": [2000, 2005, 2010], "format": "d", "title": null, "grid": false, "tickSize": -16, "tickWidth": 1.5, "tickColor": "#222", "domainColor": "#555", "domainWidth": 1.5, "labelFont": "Liberation Serif", "labelFontSize": 39, "labelColor": "black", "labelPadding": 21, "labelFlush": false, "labelOverlap": false}},
  "y": {"field": "v", "type": "quantitative", "scale": {"domain": [0.04, 0.18], "nice": false, "zero": false},
        "axis": {"orient": "left", "values": [0.05, 0.1, 0.15], "format": ".2f", "title": null, "grid": false, "tickSize": -16, "tickWidth": 1.5, "tickColor": "#222", "domainColor": "#555", "domainWidth": 1.5, "labelFont": "Liberation Serif", "labelFontSize": 39, "labelColor": "black", "labelPadding": 30, "labelFlush": false, "labelOverlap": false}}
 }},
{"data": {"name": "omo"}, "mark": {"type": "line", "color": "#3b54a5", "strokeWidth": 2.8},
 "encoding": {
  "x": {"field": "t", "type": "quantitative", "scale": {"domain": [1995.33, 2010.33], "nice": false, "zero": false},
        "axis": {"orient": "bottom", "values": [1996, 1997, 1998, 1999, 2001, 2002, 2003, 2004, 2006, 2007, 2008, 2009], "title": null, "grid": false, "labels": false, "domain": false, "tickSize": -8, "tickWidth": 1.5, "tickColor": "#222"}},
  "y": {"field": "v", "type": "quantitative", "scale": {"domain": [0.04, 0.18], "nice": false, "zero": false},
        "axis": {"orient": "left", "values": [0.06, 0.07, 0.08, 0.09, 0.11, 0.12, 0.13, 0.14, 0.16, 0.17], "title": null, "grid": false, "labels": false, "domain": false, "tickSize": -8, "tickWidth": 1.5, "tickColor": "#222"}}
 }},
{"data": {"name": "rrr"}, "mark": {"type": "line", "color": "#0f8782", "strokeWidth": 2.8},
 "encoding": {
  "x": {"field": "t", "type": "quantitative", "scale": {"domain": [1995.33, 2010.33], "nice": false, "zero": false}, "axis": null},
  "y": {"field": "v", "type": "quantitative", "scale": {"domain": [0.04, 0.18], "nice": false, "zero": false}, "axis": null}
 }},
{"data": {"name": "redisc"}, "mark": {"type": "line", "color": "#7d2a8c", "strokeWidth": 2.8},
 "encoding": {
  "x": {"field": "t", "type": "quantitative", "scale": {"domain": [1995.33, 2010.33], "nice": false, "zero": false}, "axis": null},
  "y": {"field": "v", "type": "quantitative", "scale": {"domain": [0.04, 0.18], "nice": false, "zero": false}, "axis": null}
 }},
{"data": {"name": "labBot"}, "mark": {"type": "text", "font": "Liberation Serif", "fontSize": 43, "align": "left", "baseline": "alphabetic", "color": "black"},
 "encoding": {
  "x": {"field": "t", "type": "quantitative", "scale": {"domain": [1995.33, 2010.33], "nice": false, "zero": false}, "axis": null},
  "y": {"field": "v", "type": "quantitative", "scale": {"domain": [0.04, 0.18], "nice": false, "zero": false}, "axis": null},
  "text": {"field": "txt"}
 }}
]
}
]
}
